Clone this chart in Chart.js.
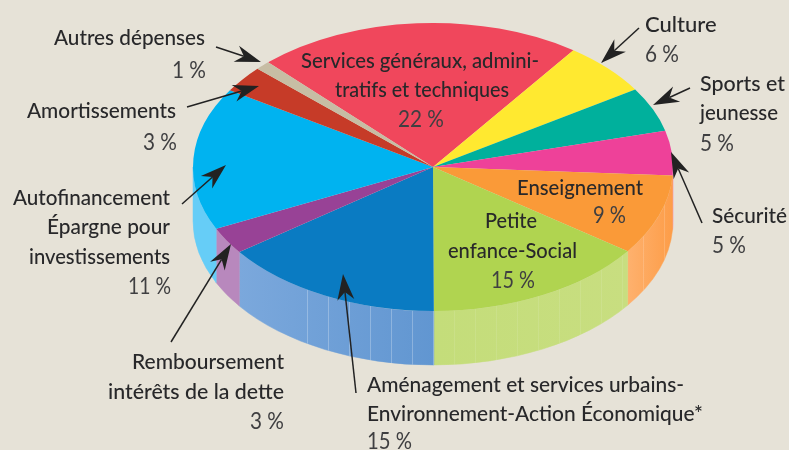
<!DOCTYPE html>
<html lang="fr">
<head>
<meta charset="utf-8">
<style>
html,body{margin:0;padding:0;background:#e6e2d7;overflow:hidden}
canvas{display:block}
</style>
<script src="https://cdn.jsdelivr.net/npm/chart.js@4"></script>
</head>
<body>
<canvas id="c" width="789" height="450"></canvas>
<script>
// Categories and drawn slice sizes (%). The picture prints "11 %" for
// Autofinancement, but its slice measures 16 % and the total then reaches 100.
const categories = ["Services généraux, administratifs et techniques","Culture","Sports et jeunesse","Sécurité","Enseignement","Petite enfance-Social","Aménagement et services urbains-Environnement-Action Économique*","Remboursement intérêts de la dette","Autofinancement Épargne pour investissements","Amortissements","Autres dépenses"];
const sliceValues = [22,6,5,5,9,15,15,3,16,3,1];
const printedPercent = ["22 %","6 %","5 %","5 %","9 %","15 %","15 %","3 %","11 %","3 %","1 %"];
const topColors = ["#f0475c","#ffe930","#00b09c","#ee4199","#fa9a38","#b0d450","#0a7bc2","#984296","#00b3f0","#c63b28","#c7bda4"];
const sideColorsA = ["#f0475c","#ffe930","#00b09c","#f58cc0","#feb16e","#c4dd7a","#7ba8dc","#b888bd","#66cdf7","#c63b28","#c7bda4"];
const sideColorsB = ["#f0475c","#ffe930","#00b09c","#f58cc0","#fd9d48","#c8de80","#6196d1","#b888bd","#66cdf7","#c63b28","#c7bda4"];
const facetAlpha = [0,0,0,0,.16,.1,.26,0,0,0,0];

const SQUASH = 0.6, DEPTH = 54, FACET = 21, FACET_REACH = 135;
const INK = "#28282a", SOFT = "#3f3f41";
const NAME = '500 22px Lato, "Open Sans", sans-serif';
const PCT = '400 23px Lato, "Open Sans", sans-serif';

// [text, x, baseline, align, fitted width, isPercent]
const textLines = [
  ["Autres dépenses",205,45,"right",151,0],[printedPercent[10],206,78,"right",34,1],
  ["Amortissements",176,118,"right",149,0],[printedPercent[9],177,150,"right",34,1],
  ["Autofinancement",170,205,"right",157,0],["Épargne pour",170,234,"right",123,0],
  ["investissements",170,264,"right",141,0],[printedPercent[8],171,294,"right",43,1],
  ["Services généraux, admini-",301,68,"left",238,0],["tratifs et techniques",335,97,"left",174,0],[printedPercent[0],398,127,"left",46,1],
  ["Culture",645,32,"left",72,0],[printedPercent[1],645,62,"left",34,1],
  ["Sports et",700,91,"left",85,0],["jeunesse",700,120,"left",78,0],[printedPercent[2],700,151,"left",34,1],
  ["Sécurité",712,223,"left",75,0],[printedPercent[3],712,253,"left",34,1],
  ["Enseignement",517,195,"left",126,0],[printedPercent[4],593,223,"left",33,1],
  ["Petite",485,228,"left",52,0],["enfance-Social",448,258,"left",129,0],[printedPercent[5],491,288,"left",44,1],
  ["Remboursement",284,369,"right",152,0],["intérêts de la dette",284,399,"right",176,0],[printedPercent[7],284,429,"right",34,1],
  ["Aménagement et services urbains-",367,392,"left",317,0],["Environnement-Action Économique*",367,421,"left",336,0],[printedPercent[6],367,449,"left",45,1]
];
// [from x, from y, tip x, tip y]
const arrows = [
  [216,47,261,62],[187,107,259,86],[639,28,601,63],[690,88,653,105],[702,223,671,152],
  [182,204,226,165],[171,342,231,244],[356,393,343,274]
];

function drawArrow(ctx,a){
  const [x0,y0,x1,y1]=a, ang=Math.atan2(y1-y0,x1-x0), L=26, W=8.5, N=18;
  ctx.strokeStyle="#222"; ctx.fillStyle="#222"; ctx.lineWidth=1.5;
  ctx.beginPath(); ctx.moveTo(x0,y0);
  ctx.lineTo(x1-N*Math.cos(ang),y1-N*Math.sin(ang)); ctx.stroke();
  const px=-Math.sin(ang), py=Math.cos(ang), bx=x1-L*Math.cos(ang), by=y1-L*Math.sin(ang);
  ctx.beginPath(); ctx.moveTo(x1,y1); ctx.lineTo(bx+px*W,by+py*W);
  ctx.lineTo(x1-N*Math.cos(ang),y1-N*Math.sin(ang)); ctx.lineTo(bx-px*W,by-py*W);
  ctx.closePath(); ctx.fill();
}

const pie3d = {
  id:"pie3d",
  beforeDatasetsDraw(chart){
    const ctx=chart.ctx, arcs=chart.getDatasetMeta(0).data;
    arcs.forEach((arc,i)=>{
      const a0=Math.max(arc.startAngle,0), a1=Math.min(arc.endAngle,Math.PI);
      if(a1<=a0) return;
      const cx=arc.x, cy=arc.y, rx=arc.outerRadius, ry=rx*SQUASH;
      const xs=[cx+rx*Math.cos(a0),cx+rx*Math.cos(a1)];
      const g=ctx.createLinearGradient(Math.min(...xs),0,Math.max(...xs),0);
      g.addColorStop(0,sideColorsA[i]); g.addColorStop(1,sideColorsB[i]);
      ctx.save();
      ctx.beginPath();
      ctx.ellipse(cx,cy,rx,ry,0,a0,a1);
      ctx.ellipse(cx,cy+DEPTH,rx,ry,0,a1,a0,true);
      ctx.closePath();
      ctx.fillStyle=g; ctx.strokeStyle=g; ctx.lineWidth=.5;
      ctx.fill(); ctx.stroke();
      ctx.clip();
      if(facetAlpha[i]>0){
        ctx.strokeStyle="rgba(255,255,255,"+facetAlpha[i]+")"; ctx.lineWidth=1;
        for(let k=-Math.floor(FACET_REACH/FACET);k*FACET<rx;k++){
          const px=Math.round(cx+k*FACET)+.5;
          ctx.beginPath(); ctx.moveTo(px,cy); ctx.lineTo(px,cy+ry+DEPTH); ctx.stroke();
        }
      }
      ctx.restore();
    });
    const m=arcs[0];
    ctx.save();
    ctx.translate(m.x,m.y); ctx.scale(1,SQUASH); ctx.translate(-m.x,-m.y);
  },
  afterDatasetsDraw(chart){ chart.ctx.restore(); },
  afterDraw(chart){
    const ctx=chart.ctx;
    ctx.save();
    arrows.forEach(a=>drawArrow(ctx,a));
    ctx.textBaseline="alphabetic";
    textLines.forEach(([t,x,y,al,w,p])=>{
      ctx.font=p?PCT:NAME; ctx.fillStyle=p?SOFT:INK; ctx.textAlign=al;
      ctx.fillText(t,x,y,w);
    });
    ctx.restore();
  }
};

new Chart(document.getElementById("c"),{
  type:"pie",
  data:{labels:categories,datasets:[{data:sliceValues,backgroundColor:topColors,borderWidth:0,hoverOffset:0}]},
  options:{
    responsive:false,animation:false,
    radius:240,rotation:-43.4,
    layout:{padding:{left:77,bottom:116}},
    plugins:{legend:{display:false},tooltip:{enabled:false},title:{display:false}}
  },
  plugins:[pie3d]
});
</script>
</body>
</html>
